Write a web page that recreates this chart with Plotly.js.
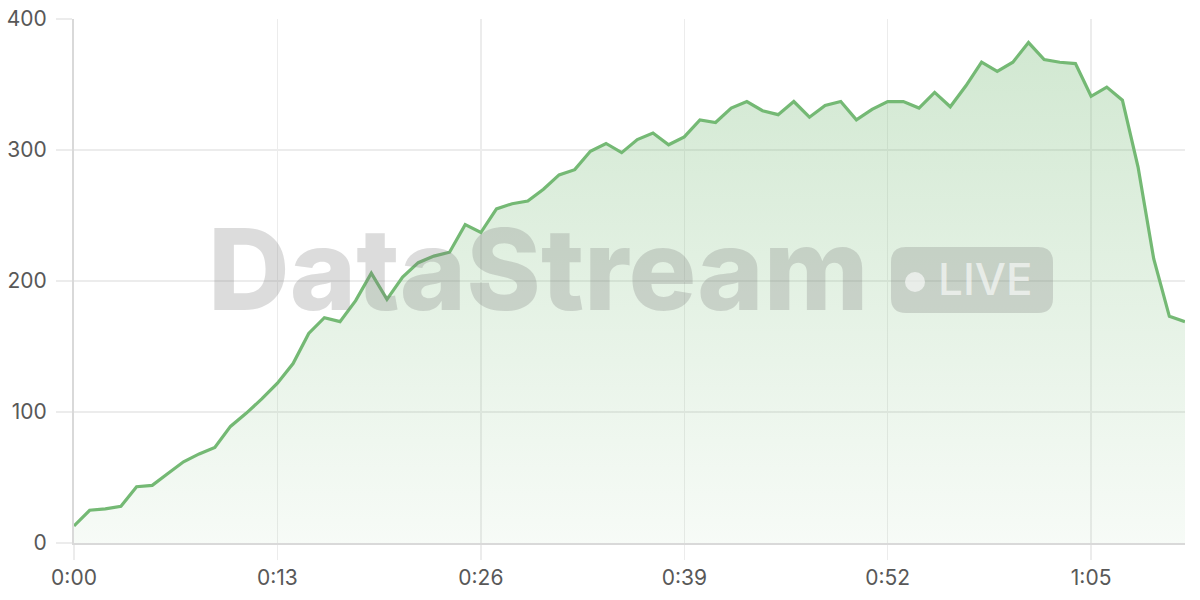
<!DOCTYPE html>
<html>
<head>
<meta charset="utf-8">
<script src="https://cdn.plot.ly/plotly-3.0.1.min.js"></script>
<style>
  html, body { margin: 0; padding: 0; background: #fff; }
  #chart { width: 1200px; height: 600px; }
</style>
</head>
<body>
<div id="chart"></div>
<script>
// viewers per second
var viewers = [
    13, 25, 26, 28, 43, 44, 53, 62, 68, 73,
    89, 99, 110, 122, 137, 160, 172, 169, 185, 206,
    186, 203, 214, 219, 222, 243, 237, 255, 259, 261,
    270, 281, 285, 299, 305, 298, 308, 313, 304, 310,
    323, 321, 332, 337, 330, 327, 337, 325, 334, 337,
    323, 331, 337, 337, 332, 344, 333, 349, 367, 360,
    367, 382, 369, 367, 366, 341, 348, 338, 287, 217,
    173, 169
];

// one sample per second
var seconds = viewers.map(function(v, i) { return i; });

var tickSeconds = [0, 13, 26, 39, 52, 65];
var tickLabels = ['0:00', '0:13', '0:26', '0:39', '0:52', '1:05'];

var green = '#74b974';
var gridColor = '#ececec';
var axisColor = '#d9d9d9';
var labelFont = { family: 'Inter, "Noto Sans", sans-serif', size: 21, color: '#585858' };
var watermark = 'rgba(120,120,120,0.26)';

var plotlyData = [
    {
        x: seconds,
        y: viewers,
        type: 'scatter',
        mode: 'lines',
        line: { color: green, width: 3.2 },
        fill: 'tozeroy',
        fillgradient: {
            type: 'vertical',
            start: 0,
            stop: 383,
            colorscale: [
                [0, 'rgba(116,185,116,0.06)'],
                [1, 'rgba(116,185,116,0.33)']
            ]
        },
        hoverinfo: 'skip'
    }
];

var plotlyLayout = {
    width: 1200,
    height: 600,
    margin: { l: 74, r: 15, t: 19, b: 57 },
    paper_bgcolor: '#ffffff',
    plot_bgcolor: '#ffffff',
    showlegend: false,
    font: labelFont,
    xaxis: {
        range: [0, 71],
        tickvals: tickSeconds,
        ticktext: tickLabels,
        showgrid: true,
        gridcolor: gridColor,
        gridwidth: 1.5,
        zeroline: false,
        showline: true,
        linecolor: axisColor,
        linewidth: 2,
        ticks: 'outside',
        ticklen: 15,
        tickwidth: 1.5,
        tickcolor: gridColor,
        tickfont: labelFont
    },
    yaxis: {
        range: [0, 400],
        dtick: 100,
        showgrid: true,
        gridcolor: gridColor,
        gridwidth: 1.5,
        zeroline: false,
        showline: true,
        linecolor: axisColor,
        linewidth: 2,
        ticks: 'outside',
        ticklen: 16,
        tickwidth: 1.5,
        tickcolor: gridColor,
        ticklabelstandoff: 5,
        tickfont: labelFont
    },
    shapes: [
        // LIVE badge
        {
            type: 'path',
            layer: 'above',
            xref: 'paper', yref: 'paper',
            xsizemode: 'pixel', ysizemode: 'pixel',
            xanchor: (972 - 74) / 1111,
            yanchor: (543 - 280) / 524,
            path: 'M -66 -33 L 66 -33 Q 81 -33 81 -18 L 81 18 Q 81 33 66 33 L -66 33 Q -81 33 -81 18 L -81 -18 Q -81 -33 -66 -33 Z',
            fillcolor: watermark,
            line: { width: 0 }
        },
        {
            type: 'circle',
            layer: 'above',
            xref: 'paper', yref: 'paper',
            xsizemode: 'pixel', ysizemode: 'pixel',
            xanchor: (915 - 74) / 1111,
            yanchor: (543 - 282) / 524,
            x0: -10, x1: 10, y0: -10, y1: 10,
            fillcolor: 'rgba(255,255,255,0.6)',
            line: { width: 0 }
        }
    ],
    annotations: [
        {
            text: 'DataStream',
            xref: 'paper', yref: 'paper',
            x: (206 - 74) / 1111,
            y: (543 - 269) / 524,
            xanchor: 'left',
            yanchor: 'middle',
            showarrow: false,
            font: { family: 'Inter, "Noto Sans", sans-serif', size: 113, weight: 800, color: watermark }
        },
        {
            text: 'LIVE',
            xref: 'paper', yref: 'paper',
            x: (936 - 74) / 1111,
            y: (543 - 279) / 524,
            xanchor: 'left',
            yanchor: 'middle',
            showarrow: false,
            font: { family: 'Inter, "Noto Sans", sans-serif', size: 44, weight: 500, color: 'rgba(255,255,255,0.6)' }
        }
    ]
};

var plotlyConfig = {
    displayModeBar: false,
    staticPlot: true
};

Plotly.newPlot('chart', plotlyData, plotlyLayout, plotlyConfig);
</script>
</body>
</html>
